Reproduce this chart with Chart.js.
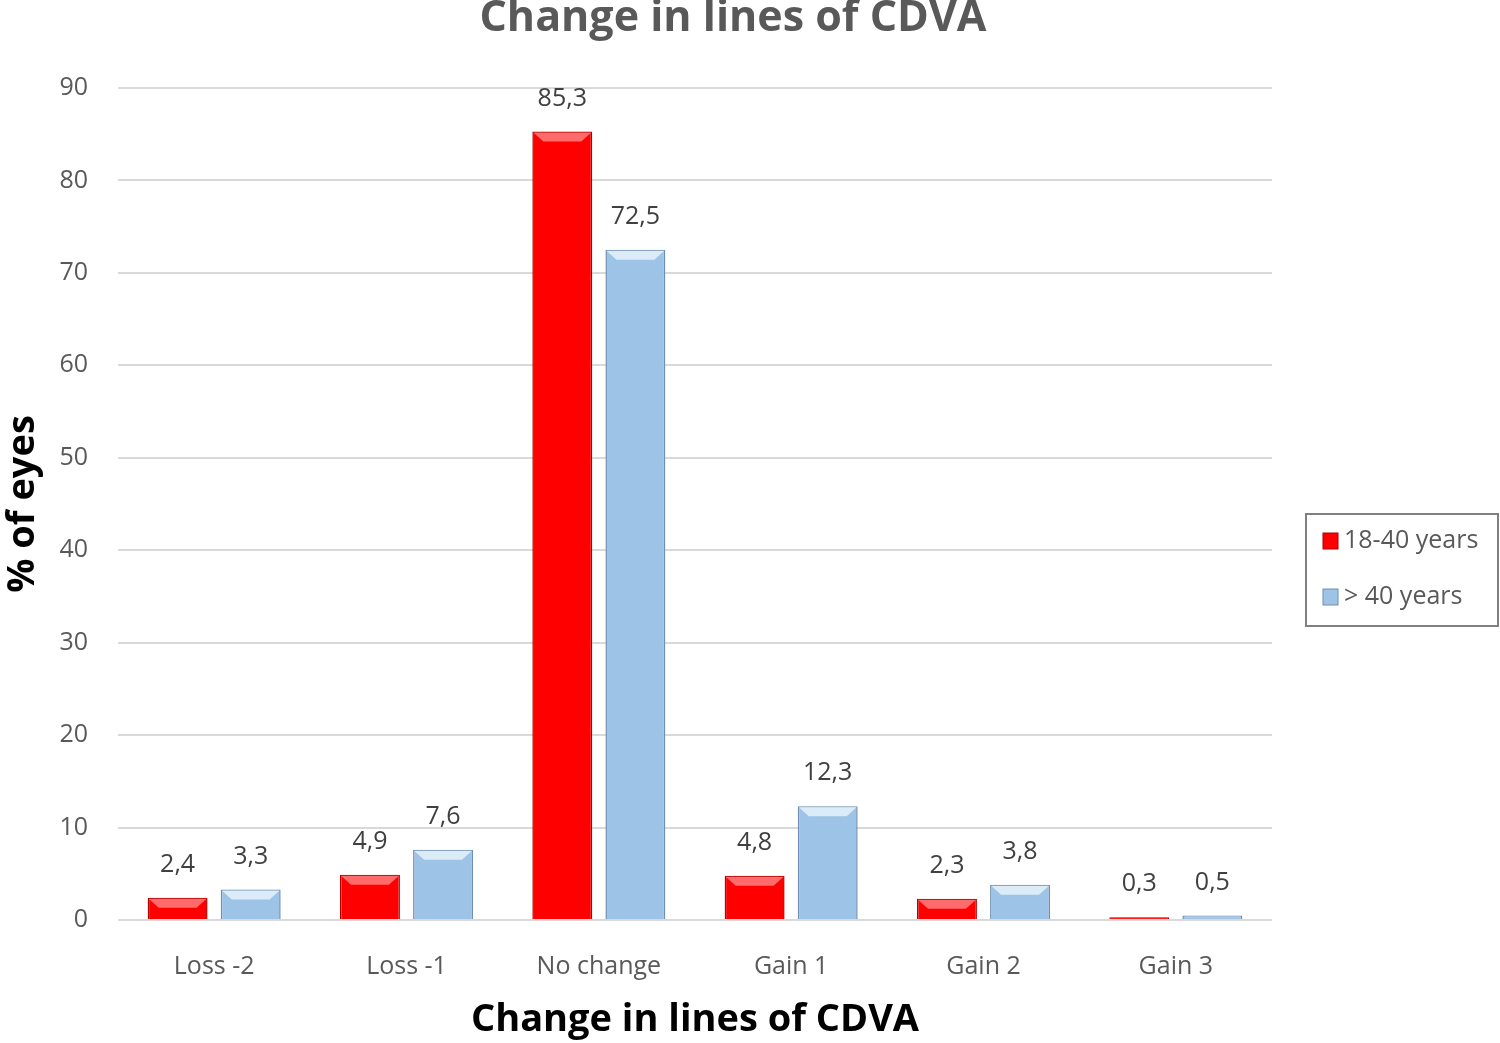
<!DOCTYPE html>
<html>
<head>
<meta charset="utf-8">
<script src="https://cdn.jsdelivr.net/npm/chart.js@4/dist/chart.umd.min.js"></script>
<style>
  html, body { margin: 0; padding: 0; background: #fff; }
  #wrap { width: 1500px; height: 1043px; }
</style>
</head>
<body>
<div id="wrap"><canvas id="cdvaChart" width="1500" height="1043"></canvas></div>
<script>
// values
const categories = ['Loss -2', 'Loss -1', 'No change', 'Gain 1', 'Gain 2', 'Gain 3'];
const seriesNames = ['18-40 years', '> 40 years'];
const young = [2.4, 4.9, 85.3, 4.8, 2.3, 0.3];
const older = [3.3, 7.6, 72.5, 12.3, 3.8, 0.5];
const yTicks = [0, 10, 20, 30, 40, 50, 60, 70, 80, 90];

const FONT = '"Open Sans", "Noto Sans", sans-serif';
const colors = [
    { fill: '#ff0000', edge: '#b00000', bevel: '#ff6a6a' },
    { fill: '#9dc3e6', edge: '#6e8fb3', bevel: '#dcebf8' }
];

const fmt = v => String(v).replace('.', ',');

// Excel-like bevel on top of each bar + value labels
const barDecor = {
    id: 'barDecor',
    afterDatasetsDraw(chart) {
        const ctx = chart.ctx;
        chart.data.datasets.forEach((ds, i) => {
            const meta = chart.getDatasetMeta(i);
            meta.data.forEach((bar, j) => {
                const w = bar.width, h = bar.base - bar.y;
                const l = bar.x - w / 2, r = bar.x + w / 2;
                const b = Math.min(10, h / 2);
                ctx.save();
                ctx.fillStyle = colors[i].bevel;
                ctx.beginPath();
                ctx.moveTo(l + 1, bar.y + 1);
                ctx.lineTo(r - 1, bar.y + 1);
                ctx.lineTo(r - 1 - b, bar.y + b);
                ctx.lineTo(l + 1 + b, bar.y + b);
                ctx.closePath();
                ctx.fill();
                ctx.fillStyle = '#404040';
                ctx.font = '25px ' + FONT;
                ctx.textAlign = 'center';
                ctx.textBaseline = 'middle';
                ctx.fillText(fmt(ds.data[j]), bar.x, bar.y - 33);
                ctx.restore();
            });
        });
    },
    afterDraw(chart) {
        const ctx = chart.ctx;
        ctx.save();
        // title, cut off at top like the original
        ctx.fillStyle = '#595959';
        ctx.font = 'bold 43px ' + FONT;
        ctx.textAlign = 'center';
        ctx.textBaseline = 'alphabetic';
        ctx.fillText('Change in lines of CDVA', 733, 31);
        // legend box
        ctx.strokeStyle = '#808080';
        ctx.lineWidth = 2;
        ctx.strokeRect(1306, 514, 192, 112);
        chart.data.datasets.forEach((ds, i) => {
            const cy = 541 + i * 56;
            ctx.fillStyle = colors[i].fill;
            ctx.fillRect(1323, cy - 8, 15, 16);
            ctx.strokeStyle = colors[i].edge;
            ctx.lineWidth = 1;
            ctx.strokeRect(1323, cy - 8, 15, 16);
            ctx.fillStyle = '#595959';
            ctx.font = '25px ' + FONT;
            ctx.textAlign = 'left';
            ctx.textBaseline = 'middle';
            ctx.fillText(ds.label, 1344, cy);
        });
        ctx.restore();
    }
};

new Chart(document.getElementById('cdvaChart'), {
    type: 'bar',
    data: {
        labels: categories,
        datasets: [
            { label: seriesNames[0], data: young, backgroundColor: colors[0].fill, borderColor: colors[0].edge, borderWidth: 1.5 },
            { label: seriesNames[1], data: older, backgroundColor: colors[1].fill, borderColor: colors[1].edge, borderWidth: 1.5 }
        ]
    },
    options: {
        responsive: false,
        animation: false,
        devicePixelRatio: 1,
        layout: { padding: { top: 88, right: 228, bottom: 0, left: 0 } },
        datasets: { bar: { categoryPercentage: 0.76, barPercentage: 0.82 } },
        plugins: { legend: { display: false }, title: { display: false }, tooltip: { enabled: false } },
        scales: {
            x: {
                grid: { display: false },
                border: { display: false },
                ticks: { color: '#595959', font: { family: FONT, size: 25 }, padding: 24 },
                title: { display: true, text: 'Change in lines of CDVA', color: '#000', font: { family: FONT, size: 38, weight: 'bold' }, padding: { top: 0, bottom: 0 } },
                afterFit: s => { s.height = 123; }
            },
            y: {
                min: 0, max: 90,
                afterBuildTicks: s => { s.ticks = yTicks.map(v => ({ value: v })); },
                grid: { color: '#d9d9d9', lineWidth: 2, drawTicks: false },
                border: { display: false },
                ticks: { color: '#595959', font: { family: FONT, size: 25 }, padding: 30 },
                title: { display: true, text: '% of eyes', color: '#000', font: { family: FONT, size: 38, weight: 'bold' }, padding: { top: 0, bottom: 0 } },
                afterFit: s => { s.width = 118; }
            }
        }
    },
    plugins: [barDecor]
});
</script>
</body>
</html>
